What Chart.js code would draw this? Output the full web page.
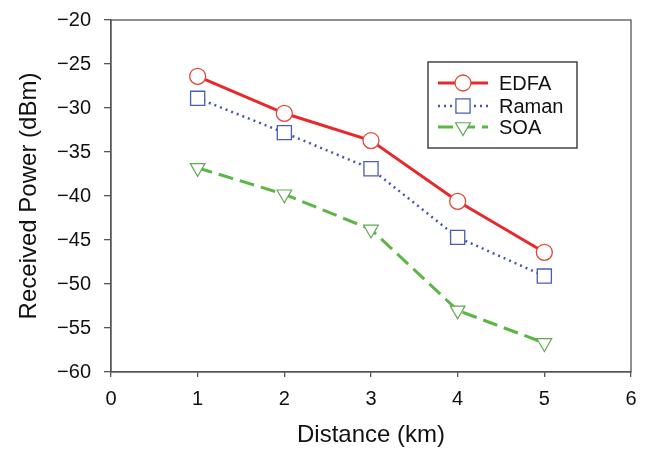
<!DOCTYPE html>
<html>
<head>
<meta charset="utf-8">
<script src="https://cdn.jsdelivr.net/npm/chart.js@4.4.1/dist/chart.umd.min.js"></script>
<style>
  html, body { margin: 0; padding: 0; background: #fff; }
  #wrap { width: 649px; height: 450px; }
</style>
</head>
<body>
<div id="wrap"><canvas id="chart" width="649" height="450"></canvas></div>
<script>
// data
const distanceKm = [1, 2, 3, 4, 5];
const edfa = [-26.4, -30.6, -33.7, -40.6, -46.4];
const raman = [-28.9, -32.8, -36.9, -44.7, -49.1];
const soa = [-36.8, -39.8, -43.8, -53.0, -56.7];
const xTicks = [0, 1, 2, 3, 4, 5, 6];
const yTicks = [-60, -55, -50, -45, -40, -35, -30, -25, -20];

const FONT = 'Liberation Sans, Arial, sans-serif';
const AXIS = '#555';

const toPts = ys => ys.map((y, i) => ({ x: distanceKm[i], y }));
const minus = v => String(v).replace('-', '\u2212');

// frame around the plot area
const framePlugin = {
  id: 'frame',
  afterDatasetsDraw(chart) {
    const { ctx, chartArea: a } = chart;
    ctx.save();
    ctx.strokeStyle = AXIS;
    ctx.lineWidth = 1.3;
    ctx.strokeRect(a.left, a.top, a.right - a.left, a.bottom - a.top);
    ctx.restore();
  }
};

function marker(ctx, style, x, y, r, rot) {
  ctx.beginPath();
  if (style === 'circle') {
    ctx.arc(x, y, r, 0, Math.PI * 2);
  } else if (style === 'rect') {
    const s = r * Math.SQRT1_2;
    ctx.rect(x - s, y - s, 2 * s, 2 * s);
  } else {
    let rad = (rot || 0) * Math.PI / 180;
    ctx.moveTo(x + Math.sin(rad) * r, y - Math.cos(rad) * r);
    for (let k = 0; k < 2; k++) {
      rad += 2 * Math.PI / 3;
      ctx.lineTo(x + Math.sin(rad) * r, y - Math.cos(rad) * r);
    }
    ctx.closePath();
  }
  ctx.fill();
  ctx.stroke();
}

// boxed legend drawn in the upper right of the plot
const boxLegend = {
  id: 'boxLegend',
  afterDraw(chart) {
    const { ctx } = chart;
    const bx = 428, by = 62, bw = 149, bh = 86;
    ctx.save();
    ctx.fillStyle = '#fff';
    ctx.fillRect(bx, by, bw, bh);
    ctx.strokeStyle = '#444';
    ctx.lineWidth = 1.5;
    ctx.strokeRect(bx, by, bw, bh);
    const rows = [83, 106, 127];
    chart.data.datasets.forEach((ds, i) => {
      const y = rows[i];
      ctx.strokeStyle = ds.borderColor;
      ctx.lineWidth = ds.borderWidth;
      ctx.setLineDash(ds.borderDash || []);
      ctx.beginPath();
      ctx.moveTo(438, y);
      ctx.lineTo(488, y);
      ctx.stroke();
      ctx.setLineDash([]);
      ctx.fillStyle = '#fff';
      ctx.strokeStyle = ds.pointBorderColor;
      ctx.lineWidth = ds.pointBorderWidth;
      marker(ctx, ds.pointStyle, 463, y, ds.pointRadius, ds.pointRotation);
      ctx.fillStyle = '#111';
      ctx.font = '20px ' + FONT;
      ctx.textBaseline = 'middle';
      ctx.textAlign = 'left';
      ctx.fillText(ds.label, 499, y + 1);
    });
    ctx.restore();
  }
};

new Chart(document.getElementById('chart'), {
  type: 'line',
  data: {
    datasets: [
      {
        label: 'EDFA', data: toPts(edfa),
        borderColor: '#e8282b', borderWidth: 3,
        pointStyle: 'circle', pointRadius: 8, pointBorderWidth: 1.3,
        pointBorderColor: '#e0483a', pointBackgroundColor: '#fff'
      },
      {
        label: 'Raman', data: toPts(raman),
        borderColor: '#4456b0', borderWidth: 2.5, borderDash: [2, 4],
        pointStyle: 'rect', pointRadius: 10, pointBorderWidth: 1.3,
        pointBorderColor: '#4a5cb8', pointBackgroundColor: '#fff'
      },
      {
        label: 'SOA', data: toPts(soa),
        borderColor: '#5cb646', borderWidth: 3, borderDash: [15, 7],
        pointStyle: 'triangle', pointRotation: 180, pointRadius: 8.5, pointBorderWidth: 1.2,
        pointBorderColor: '#62a856', pointBackgroundColor: '#fff'
      }
    ]
  },
  options: {
    responsive: false,
    animation: false,
    layout: { padding: { top: 20, right: 18, left: 0, bottom: 0 } },
    plugins: { legend: { display: false }, tooltip: { enabled: false } },
    elements: { line: { tension: 0 } },
    scales: {
      x: {
        type: 'linear', min: 0, max: 6,
        afterBuildTicks: s => { s.ticks = xTicks.map(v => ({ value: v })); },
        afterFit: s => { s.height = 78; s.paddingLeft = 0; s.paddingRight = 0; },
        border: { display: true, color: AXIS, width: 1.3 },
        grid: { drawOnChartArea: false, drawTicks: true, tickLength: 5, color: AXIS, lineWidth: 1.3 },
        ticks: { color: '#111', font: { family: FONT, size: 20 }, padding: 10 },
        title: { display: true, text: 'Distance (km)', color: '#111', font: { family: FONT, size: 24 }, padding: { top: 0, bottom: 0 } }
      },
      y: {
        type: 'linear', min: -60, max: -20,
        afterBuildTicks: s => { s.ticks = yTicks.map(v => ({ value: v })); },
        afterFit: s => { s.width = 111; s.paddingTop = 0; s.paddingBottom = 0; },
        border: { display: true, color: AXIS, width: 1.3 },
        grid: { drawOnChartArea: false, drawTicks: true, tickLength: 7, color: AXIS, lineWidth: 1.3 },
        ticks: { color: '#111', font: { family: FONT, size: 20 }, padding: 13, callback: v => minus(v) },
        title: { display: true, text: 'Received Power (dBm)', color: '#111', font: { family: FONT, size: 24 }, padding: { top: 15, bottom: 0 } }
      }
    }
  },
  plugins: [framePlugin, boxLegend]
});
</script>
</body>
</html>
